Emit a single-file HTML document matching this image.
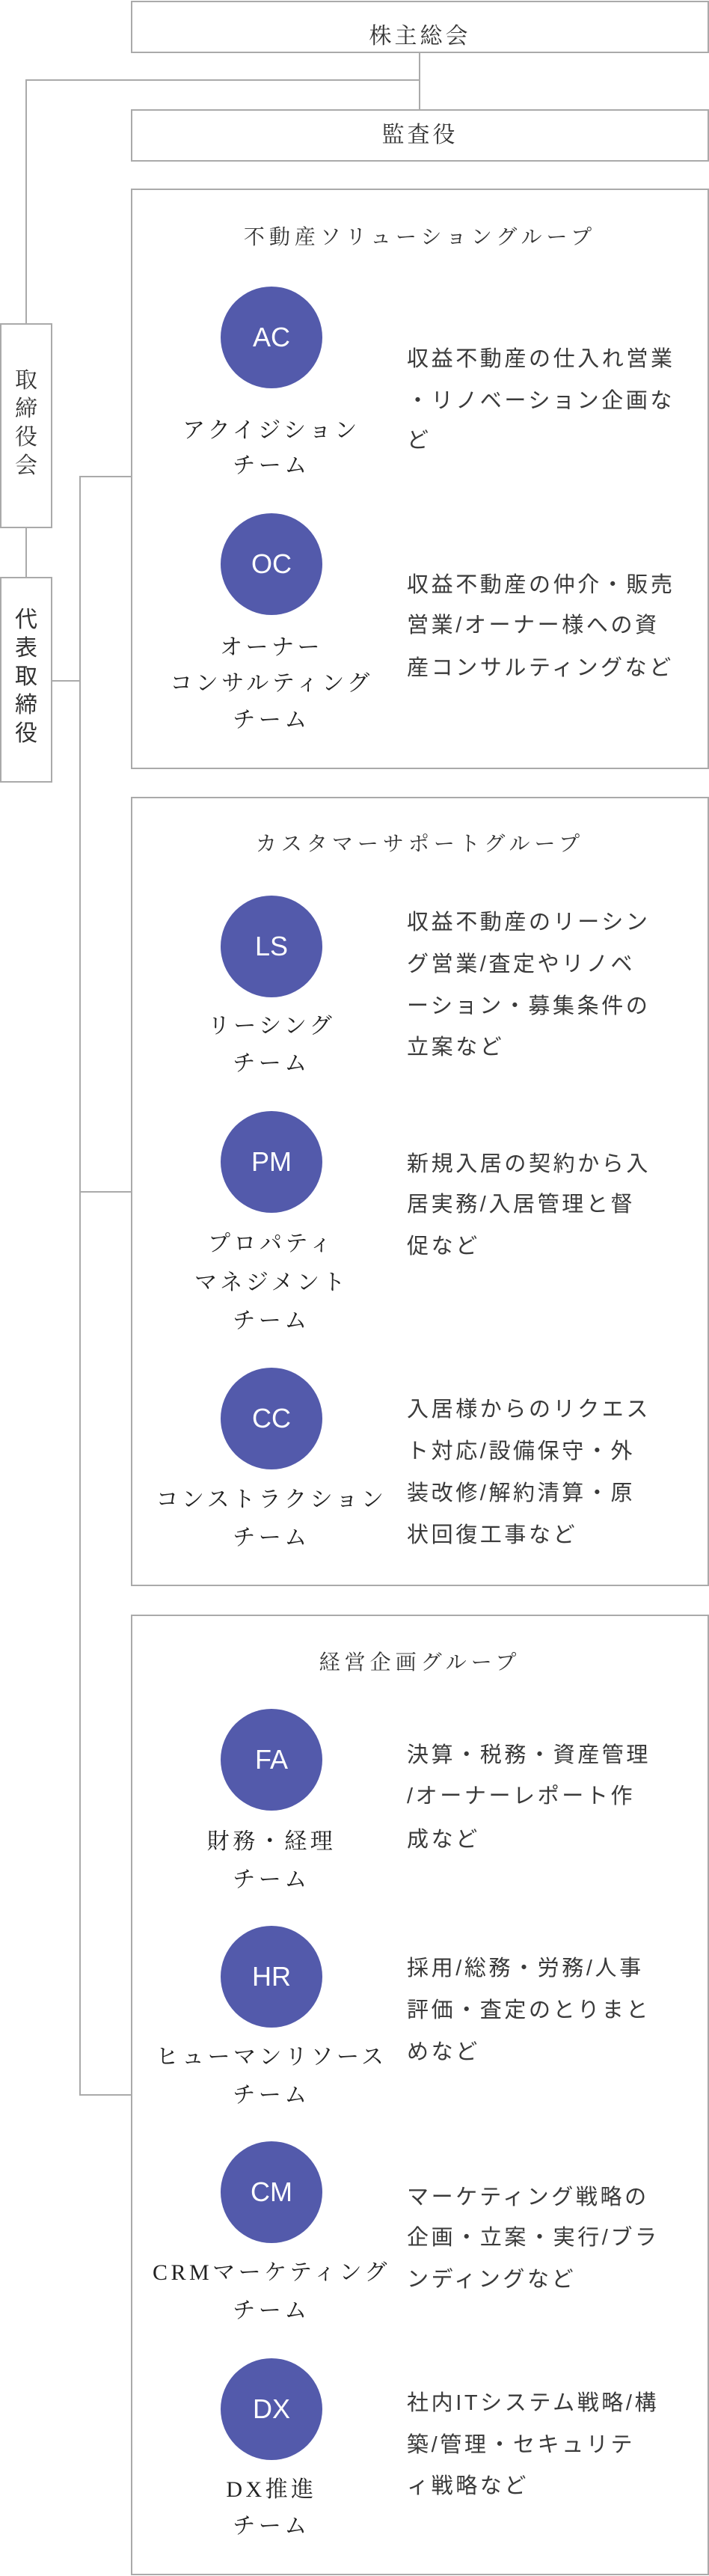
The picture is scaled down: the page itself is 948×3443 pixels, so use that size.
<!DOCTYPE html>
<html><head><meta charset="utf-8"><style>
*{margin:0;padding:0;box-sizing:border-box}
body{width:948px;height:3443px;position:relative;background:#fff;overflow:hidden;color:#333}
.b{position:absolute;border:2px solid #aaa;background:#fff}
.h{position:absolute;background:#aaa;height:2px}
.v{position:absolute;background:#aaa;width:2px}
.t{position:absolute;line-height:40px;height:40px;white-space:nowrap}
.serif{font-family:"Liberation Serif","Noto Serif CJK SC",serif}
.sans{font-family:"Liberation Sans","Noto Sans CJK JP",sans-serif}
.top{left:175px;width:773px;text-align:center;font-size:30px;letter-spacing:4px}
.g{left:175px;width:773px;text-align:center;font-size:28px;letter-spacing:6px}
.n{left:143px;width:440px;text-align:center;font-size:30px;letter-spacing:4.5px;color:#222}
.d{left:544px;font-size:29px;letter-spacing:3.6px;color:#3a3a3a}
.c{position:absolute;left:295px;width:136px;height:136px;border-radius:50%;background:#535aab;color:#fff;text-align:center;line-height:136px;font-size:36px;font-family:"Liberation Sans","DejaVu Sans",sans-serif}
.vt{position:absolute;left:0;width:70px;text-align:center;font-size:30px;line-height:38px}
</style></head><body>
<div class="v" style="left:560px;top:70px;height:77px"></div>
<div class="h" style="left:34px;top:106px;width:528px"></div>
<div class="v" style="left:34px;top:106px;height:327px"></div>
<div class="v" style="left:34px;top:704px;height:68px"></div>
<div class="v" style="left:106px;top:636px;height:2165px"></div>
<div class="h" style="left:106px;top:636px;width:70px"></div>
<div class="h" style="left:106px;top:1592px;width:70px"></div>
<div class="h" style="left:106px;top:2799px;width:70px"></div>
<div class="h" style="left:69px;top:909px;width:38px"></div>

<div class="b" style="left:175px;top:1px;width:773px;height:70px"></div>
<div class="t serif top" style="top:29px">株主総会</div>
<div class="b" style="left:175px;top:146px;width:773px;height:70px"></div>
<div class="t serif top" style="top:161px">監査役</div>

<div class="b" style="left:0;top:432px;width:70px;height:274px"></div>
<div class="vt serif" style="top:490px">取<br>締<br>役<br>会</div>
<div class="b" style="left:0;top:771px;width:70px;height:275px"></div>
<div class="vt sans" style="top:810px">代<br>表<br>取<br>締<br>役</div>

<div class="b" style="left:175px;top:252px;width:773px;height:776px"></div>
<div class="t serif g" style="top:298px">不動産ソリューショングループ</div>
<div class="c" style="top:383px">AC</div>
<div class="t serif n" style="top:556px">アクイジション</div>
<div class="t serif n" style="top:603px">チーム</div>
<div class="t sans d" style="top:460px">収益不動産の仕入れ営業</div>
<div class="t sans d" style="top:516px">・リノベーション企画な</div>
<div class="t sans d" style="top:569px">ど</div>
<div class="c" style="top:686px">OC</div>
<div class="t serif n" style="top:846px">オーナー</div>
<div class="t serif n" style="top:894px">コンサルティング</div>
<div class="t serif n" style="top:943px">チーム</div>
<div class="t sans d" style="top:762px">収益不動産の仲介・販売</div>
<div class="t sans d" style="top:816px">営業/オーナー様への資</div>
<div class="t sans d" style="top:873px">産コンサルティングなど</div>

<div class="b" style="left:175px;top:1065px;width:773px;height:1055px"></div>
<div class="t serif g" style="top:1109px">カスタマーサポートグループ</div>
<div class="c" style="top:1197px">LS</div>
<div class="t serif n" style="top:1352px">リーシング</div>
<div class="t serif n" style="top:1402px">チーム</div>
<div class="t sans d" style="top:1213px">収益不動産のリーシン</div>
<div class="t sans d" style="top:1269px">グ営業/査定やリノベ</div>
<div class="t sans d" style="top:1325px">ーション・募集条件の</div>
<div class="t sans d" style="top:1380px">立案など</div>
<div class="c" style="top:1485px">PM</div>
<div class="t serif n" style="top:1643px">プロパティ</div>
<div class="t serif n" style="top:1695px">マネジメント</div>
<div class="t serif n" style="top:1746px">チーム</div>
<div class="t sans d" style="top:1536px">新規入居の契約から入</div>
<div class="t sans d" style="top:1590px">居実務/入居管理と督</div>
<div class="t sans d" style="top:1646px">促など</div>
<div class="c" style="top:1828px">CC</div>
<div class="t serif n" style="top:1985px">コンストラクション</div>
<div class="t serif n" style="top:2036px">チーム</div>
<div class="t sans d" style="top:1864px">入居様からのリクエス</div>
<div class="t sans d" style="top:1920px">ト対応/設備保守・外</div>
<div class="t sans d" style="top:1976px">装改修/解約清算・原</div>
<div class="t sans d" style="top:2032px">状回復工事など</div>

<div class="b" style="left:175px;top:2158px;width:773px;height:1284px"></div>
<div class="t serif g" style="top:2203px">経営企画グループ</div>
<div class="c" style="top:2284px">FA</div>
<div class="t serif n" style="top:2442px">財務・経理</div>
<div class="t serif n" style="top:2493px">チーム</div>
<div class="t sans d" style="top:2326px">決算・税務・資産管理</div>
<div class="t sans d" style="top:2381px">/オーナーレポート作</div>
<div class="t sans d" style="top:2439px">成など</div>
<div class="c" style="top:2574px">HR</div>
<div class="t serif n" style="top:2730px">ヒューマンリソース</div>
<div class="t serif n" style="top:2781px">チーム</div>
<div class="t sans d" style="top:2611px">採用/総務・労務/人事</div>
<div class="t sans d" style="top:2667px">評価・査定のとりまと</div>
<div class="t sans d" style="top:2723px">めなど</div>
<div class="c" style="top:2862px">CM</div>
<div class="t serif n" style="top:3018px">CRMマーケティング</div>
<div class="t serif n" style="top:3069px">チーム</div>
<div class="t sans d" style="top:2917px">マーケティング戦略の</div>
<div class="t sans d" style="top:2971px">企画・立案・実行/ブラ</div>
<div class="t sans d" style="top:3027px">ンディングなど</div>
<div class="c" style="top:3152px">DX</div>
<div class="t serif n" style="top:3308px">DX推進</div>
<div class="t serif n" style="top:3357px">チーム</div>
<div class="t sans d" style="top:3192px">社内ITシステム戦略/構</div>
<div class="t sans d" style="top:3248px">築/管理・セキュリテ</div>
<div class="t sans d" style="top:3303px">ィ戦略など</div>
</body></html>
